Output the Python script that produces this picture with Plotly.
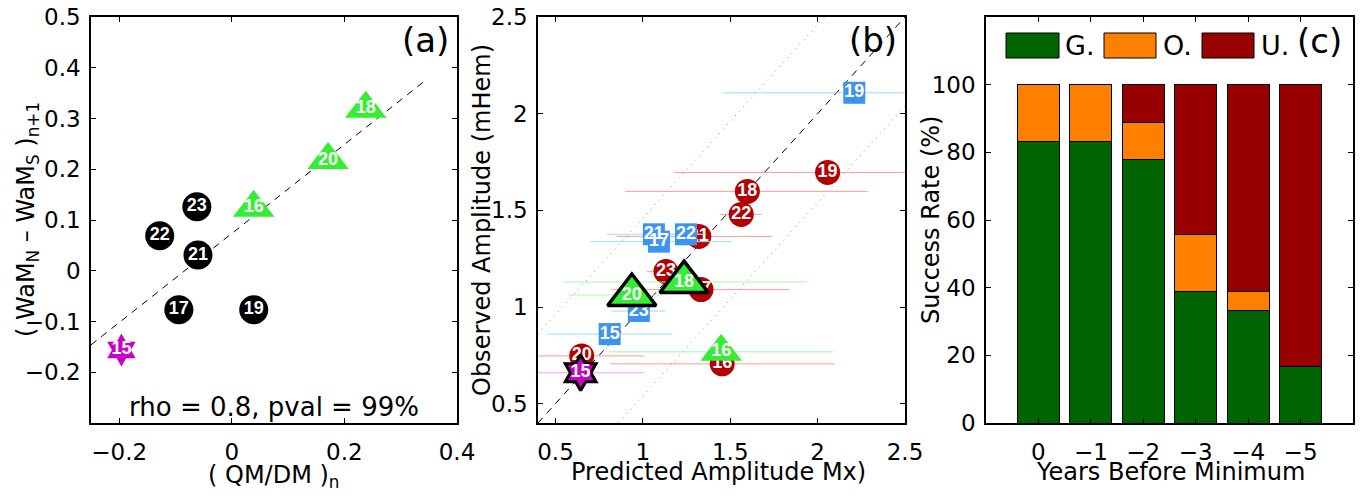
import plotly.graph_objects as go

W, H = 1361, 500

# ---------------- Panel (a) data ----------------
a_black_cyc = ["17", "19", "21", "22", "23"]
a_black_x = [-0.094, 0.039, -0.060, -0.128, -0.062]
a_black_y = [-0.077, -0.077, 0.031, 0.069, 0.126]
a_green_cyc = ["16", "18", "20"]
a_green_x = [0.039, 0.238, 0.171]
a_green_y = [0.124, 0.319, 0.218]
a_mag_cyc = ["15"]
a_mag_x = [-0.196]
a_mag_y = [-0.156]
a_fit_x = [-0.25, 0.345]
a_fit_y = [-0.146, 0.376]
a_xticks = [-0.2, 0, 0.2, 0.4]
a_xtext = ["\u22120.2", "0", "0.2", "0.4"]
a_yticks = [-0.2, -0.1, 0, 0.1, 0.2, 0.3, 0.4, 0.5]
a_ytext = ["\u22120.2", "\u22120.1", "0", "0.1", "0.2", "0.3", "0.4", "0.5"]

# ---------------- Panel (b) data ----------------
b_red_cyc = ["16", "17", "18", "19", "20", "21", "22", "23"]
b_red_x = [1.454, 1.333, 1.598, 2.057, 0.650, 1.320, 1.563, 1.132]
b_red_y = [0.706, 1.090, 1.598, 1.696, 0.747, 1.365, 1.479, 1.183]
b_red_lo = [0.816, 0.820, 0.897, 1.180, 0.290, 0.850, 1.440, 1.020]
b_red_hi = [2.100, 1.840, 2.287, 2.940, 1.010, 1.740, 1.680, 1.250]

b_blue_cyc = ["15", "17", "19", "21", "22", "23"]
b_blue_x = [0.810, 1.092, 2.210, 1.063, 1.247, 0.977]
b_blue_y = [0.860, 1.338, 2.108, 1.376, 1.376, 0.979]
b_blue_lo = [0.450, 0.700, 1.460, 0.793, 1.150, 0.820]
b_blue_hi = [1.170, 1.510, 2.960, 1.330, 1.350, 1.130]

b_green_cyc = ["16", "18", "20"]
b_green_x = [1.448, 1.236, 0.937]
b_green_y = [0.768, 1.129, 1.062]
b_green_lo = [0.805, 0.546, 0.575]
b_green_hi = [2.090, 1.940, 1.100]

b_mag_cyc = ["15"]
b_mag_x = [0.644]
b_mag_y = [0.660]
b_mag_lo = [0.280]
b_mag_hi = [1.006]

b_diag_x = [0.4, 2.5]
b_band = 0.46
b_ticks = [0.5, 1, 1.5, 2, 2.5]
b_ticktext = ["0.5", "1", "1.5", "2", "2.5"]

# ---------------- Panel (c) data ----------------
c_years = ["0", "\u22121", "\u22122", "\u22123", "\u22124", "\u22125"]
c_pos = [1, 2, 3, 4, 5, 6]
c_good = [83.3, 83.3, 77.8, 38.9, 33.3, 16.7]
c_over = [16.7, 16.7, 11.1, 16.7, 5.6, 0.0]
c_under = [0.0, 0.0, 11.1, 44.4, 61.1, 83.3]
c_yticks = [0, 20, 40, 60, 80, 100]

# ---------------- styles ----------------
RED = "#B40000"
BLUE = "#3D94F0"
GREEN = "#33EE33"
MAG = "#C800C8"
LBL = dict(family="Liberation Sans, Arial, sans-serif", size=18, color="white")
TICKFONT = dict(family="DejaVu Sans", size=23, color="black")


def bold(lst):
    return ["<b>%s</b>" % s for s in lst]


fig = go.Figure()

# ---- (a)
fig.add_trace(go.Scatter(x=a_fit_x, y=a_fit_y, mode="lines",
                         line=dict(color="black", width=1, dash="7px,6px"),
                         xaxis="x", yaxis="y", showlegend=False))
fig.add_trace(go.Scatter(x=a_black_x, y=a_black_y, mode="markers+text",
                         text=bold(a_black_cyc), textfont=LBL, textposition="middle center",
                         marker=dict(symbol="circle", size=29, color="black", opacity=1),
                         xaxis="x", yaxis="y", showlegend=False))
fig.add_trace(go.Scatter(x=a_green_x, y=a_green_y, mode="markers+text",
                         text=bold(a_green_cyc), textfont=LBL, textposition="middle center",
                         marker=dict(symbol="triangle-up", size=36, color=GREEN, opacity=1),
                         xaxis="x", yaxis="y", showlegend=False))
fig.add_trace(go.Scatter(x=a_mag_x, y=a_mag_y, mode="markers+text",
                         text=bold(a_mag_cyc), textfont=LBL, textposition="middle center",
                         marker=dict(symbol="hexagram", size=25, color=MAG, opacity=1),
                         xaxis="x", yaxis="y", showlegend=False))

# ---- (b)
fig.add_trace(go.Scatter(x=b_diag_x, y=b_diag_x, mode="lines",
                         line=dict(color="black", width=1, dash="7px,6px"),
                         xaxis="x2", yaxis="y2", showlegend=False))
fig.add_trace(go.Scatter(x=b_diag_x, y=[v + b_band for v in b_diag_x], mode="lines",
                         line=dict(color="#888888", width=1, dash="1px,5px"),
                         xaxis="x2", yaxis="y2", showlegend=False))
fig.add_trace(go.Scatter(x=b_diag_x, y=[v - b_band for v in b_diag_x], mode="lines",
                         line=dict(color="#888888", width=1, dash="1px,5px"),
                         xaxis="x2", yaxis="y2", showlegend=False))


def err(xs, lo, hi, color):
    return dict(type="data", symmetric=False,
                array=[h - x for x, h in zip(xs, hi)],
                arrayminus=[x - l for x, l in zip(xs, lo)],
                color=color, thickness=1, width=0)


fig.add_trace(go.Scatter(x=b_red_x, y=b_red_y, mode="markers+text",
                         text=bold(b_red_cyc), textfont=LBL, textposition="middle center",
                         error_x=err(b_red_x, b_red_lo, b_red_hi, "#FF9C9C"),
                         marker=dict(symbol="circle", size=25, color=RED, opacity=1),
                         xaxis="x2", yaxis="y2", showlegend=False))
fig.add_trace(go.Scatter(x=b_blue_x, y=b_blue_y, mode="markers+text",
                         text=bold(b_blue_cyc), textfont=LBL, textposition="middle center",
                         error_x=err(b_blue_x, b_blue_lo, b_blue_hi, "#9CDCFF"),
                         marker=dict(symbol="square", size=22, color=BLUE, opacity=1),
                         xaxis="x2", yaxis="y2", showlegend=False))
fig.add_trace(go.Scatter(x=b_green_x, y=b_green_y, mode="markers+text",
                         text=bold(b_green_cyc), textfont=LBL, textposition="middle center",
                         error_x=err(b_green_x, b_green_lo, b_green_hi, "#A0FFA0"),
                         marker=dict(symbol="triangle-up", size=[36, 42, 42], color=GREEN, opacity=1,
                                     line=dict(color="black", width=[0, 3.5, 3.5])),
                         xaxis="x2", yaxis="y2", showlegend=False))
fig.add_trace(go.Scatter(x=b_mag_x, y=b_mag_y, mode="markers+text",
                         text=bold(b_mag_cyc), textfont=LBL, textposition="middle center",
                         error_x=err(b_mag_x, b_mag_lo, b_mag_hi, "#FFA0FF"),
                         marker=dict(symbol="hexagram", size=27, color=MAG, opacity=1,
                                     line=dict(color="black", width=3)),
                         xaxis="x2", yaxis="y2", showlegend=False))

# ---- (c)
for name, vals, col in [("G.", c_good, "#006400"), ("O.", c_over, "#FF8000"), ("U.", c_under, "#990000")]:
    fig.add_trace(go.Bar(x=c_pos, y=vals, name=name, width=0.8,
                         marker=dict(color=col, line=dict(color="black", width=1)),
                         xaxis="x3", yaxis="y3", showlegend=False))

# ---------------- axes ----------------
ydom = [1 - 423 / H, 1 - 17 / H]
common = dict(showline=True, linecolor="black", linewidth=1.5, mirror="ticks",
              ticks="inside", ticklen=5, tickwidth=1, tickcolor="black",
              showgrid=False, zeroline=False, tickfont=TICKFONT, automargin=False)
xc = dict(common, ticklabelstandoff=8)
yc = dict(common, ticklabelstandoff=4)

fig.update_layout(
    template="none",
    xaxis=dict(domain=[91 / W, 457 / W], range=[-0.25, 0.4], tickmode="array",
               tickvals=a_xticks, ticktext=a_xtext, anchor="y", **xc),
    yaxis=dict(domain=ydom, range=[-0.3, 0.5], tickmode="array",
               tickvals=a_yticks, ticktext=a_ytext, anchor="x", **yc),
    xaxis2=dict(domain=[538 / W, 905 / W], range=[0.4, 2.5], tickmode="array",
                tickvals=b_ticks, ticktext=b_ticktext, anchor="y2", **xc),
    yaxis2=dict(domain=ydom, range=[0.4, 2.5], tickmode="array",
                tickvals=b_ticks, ticktext=b_ticktext, anchor="x2", **yc),
    xaxis3=dict(domain=[986 / W, 1353 / W], range=[0, 7], tickmode="array",
                tickvals=c_pos, ticktext=c_years, anchor="y3", **xc),
    yaxis3=dict(domain=ydom, range=[0, 120], tickmode="array",
                tickvals=c_yticks, ticktext=[str(v) for v in c_yticks], anchor="x3", **yc),
    barmode="stack",
    width=W, height=H,
    margin=dict(l=0, r=0, t=0, b=0, pad=0),
    paper_bgcolor="white", plot_bgcolor="white",
    font=dict(family="DejaVu Sans", color="black"),
)

ann = []


def px(x, y):
    return x / W, 1 - y / H


def add_text(text, x, y, size=24, angle=0, xanchor="center"):
    xx, yy = px(x, y)
    ann.append(dict(text=text, x=xx, y=yy, xref="paper", yref="paper", showarrow=False,
                    textangle=angle, xanchor=xanchor, yanchor="middle",
                    font=dict(family="DejaVu Sans", size=size, color="black")))


add_text("( WaM<sub>N</sub> \u2013 WaM<sub>S</sub> )<sub>n+1</sub>", 28, 220, 24, -90)
add_text("( QM/DM )<sub>n</sub>", 274, 476, 24)
add_text("rho = 0.8, pval = 99%", 274, 407, 26)
add_text("(a)", 425, 40, 34)
add_text("Observed Amplitude (mHem)", 482, 220, 24, -90)
add_text("Predicted Amplitude Mx)", 718, 472, 24)
add_text("(b)", 873, 40, 34)
add_text("Success Rate (%)", 931, 220, 24, -90)
add_text("Years Before Minimum", 1170, 472, 24)
add_text("(c)", 1319, 41, 34)

# legend for (c)
shapes = []
for (x0, x1), col, lab, tx in [((1006, 1059), "#006400", "G.", 1063),
                               ((1104, 1156), "#FF8000", "O.", 1161),
                               ((1202, 1254), "#990000", "U.", 1259)]:
    X0, Y0 = px(x0, 58)
    X1, Y1 = px(x1, 33)
    shapes.append(dict(type="rect", xref="paper", yref="paper", x0=X0, x1=X1, y0=Y0, y1=Y1,
                       fillcolor=col, line=dict(color="black", width=1)))
    add_text(lab, tx, 46, 27, 0, "left")

fig.update_layout(annotations=ann, shapes=shapes)

fig.write_html("out.html")
